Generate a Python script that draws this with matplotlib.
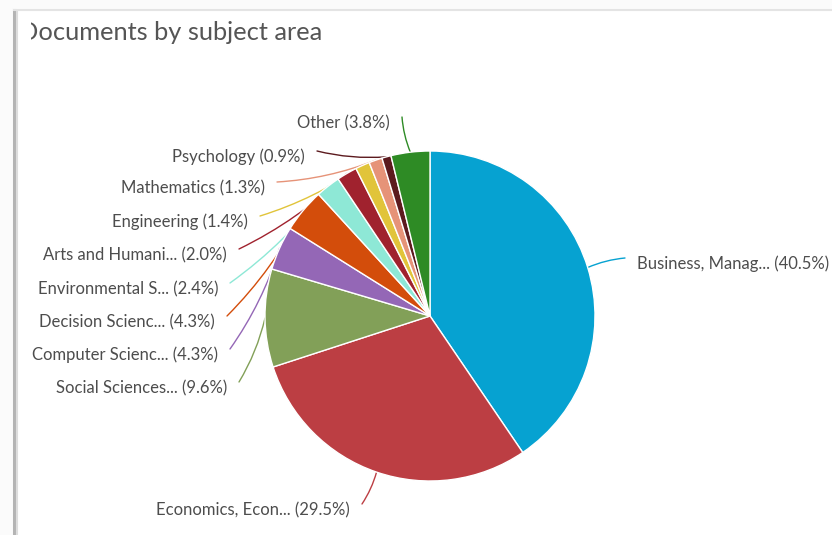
import numpy as np
import matplotlib.pyplot as plt
from matplotlib.patches import Rectangle

plt.rcParams['font.family'] = ['Lato', 'DejaVu Sans']

subjects = ['Business, Manag...', 'Economics, Econ...', 'Social Sciences...',
            'Computer Scienc...', 'Decision Scienc...', 'Environmental S...',
            'Arts and Humani...', 'Engineering', 'Mathematics', 'Psychology', 'Other']
shares = [40.5, 29.5, 9.6, 4.3, 4.3, 2.4, 2.0, 1.4, 1.3, 0.9, 3.8]
colors = ['#06a2d1', '#bc3e43', '#82a058', '#9467b6', '#d34d0b', '#8ee8d6',
          '#a0222e', '#e1c43a', '#e69378', '#5c1a1e', '#2e8b25']

# where each label sits (pixel coords, y from top) and which side it hangs on
label_pos = [(637, 264), (350, 510), (227, 388), (218, 355), (215, 322), (218, 289),
             (227, 255), (248, 222), (265, 188), (305, 157), (390, 123)]
label_side = ['left', 'right', 'right', 'right', 'right', 'right',
              'right', 'right', 'right', 'right', 'right']

W, H = 832, 535
cx, cy, R = 430, 316, 165
text_col = '#4d4d4d'

fig = plt.figure(figsize=(W / 100, H / 100), dpi=100)
ax = fig.add_axes([0, 0, 1, 1])

wedges, _ = ax.pie(shares, colors=colors, startangle=90, counterclock=False,
                   center=(cx, H - cy), radius=R,
                   wedgeprops=dict(edgecolor='white', linewidth=1.0))
for w in wedges:
    w.set_zorder(3)

ax.set_xlim(0, W)
ax.set_ylim(0, H)
ax.set_aspect('equal')
ax.axis('off')

# card background with a soft shadow on the left and top
fig.patch.set_facecolor('#fbfbfb')
ax.add_patch(Rectangle((14, -5), W, H - 10 + 5, facecolor='white',
                       edgecolor='none', zorder=0))
ax.plot([14, 14], [-5, H - 10], color='#b4b4b4', lw=2.2, zorder=1)
ax.plot([16.5, 16.5], [-5, H - 11], color='#dddddd', lw=1.5, zorder=1)
ax.plot([14, W], [H - 10, H - 10], color='#e4e4e4', lw=1.5, zorder=1)

title = ax.text(19, H - 33, 'Documents by subject area', fontsize=18.3,
                color='#555555', ha='left', va='center', zorder=4)
title.set_clip_on(True)
title.set_clip_path(Rectangle((31, 0), W, H, transform=ax.transData))

for w, name, val, col, (tx, ty), side in zip(wedges, subjects, shares, colors,
                                               label_pos, label_side):
    mid = np.deg2rad((w.theta1 + w.theta2) / 2)
    ex, ey = cx + R * np.cos(mid), (H - cy) + R * np.sin(mid)
    if side == 'right':
        sx, sy = tx + 12, H - ty + 6
        ha = 'right'
    else:
        sx, sy = tx - 12, H - ty + 6
        ha = 'left'
    ax.annotate('', xy=(ex, ey), xytext=(sx, sy),
                arrowprops=dict(arrowstyle='-', color=col, lw=1.0,
                                shrinkA=0, shrinkB=0,
                                connectionstyle='arc3,rad=0.08'),
                zorder=2)
    ax.text(tx, H - ty, f'{name} ({val}%)', fontsize=12, color=text_col,
            ha=ha, va='center', zorder=4)

fig.savefig('out.png', dpi=100)
